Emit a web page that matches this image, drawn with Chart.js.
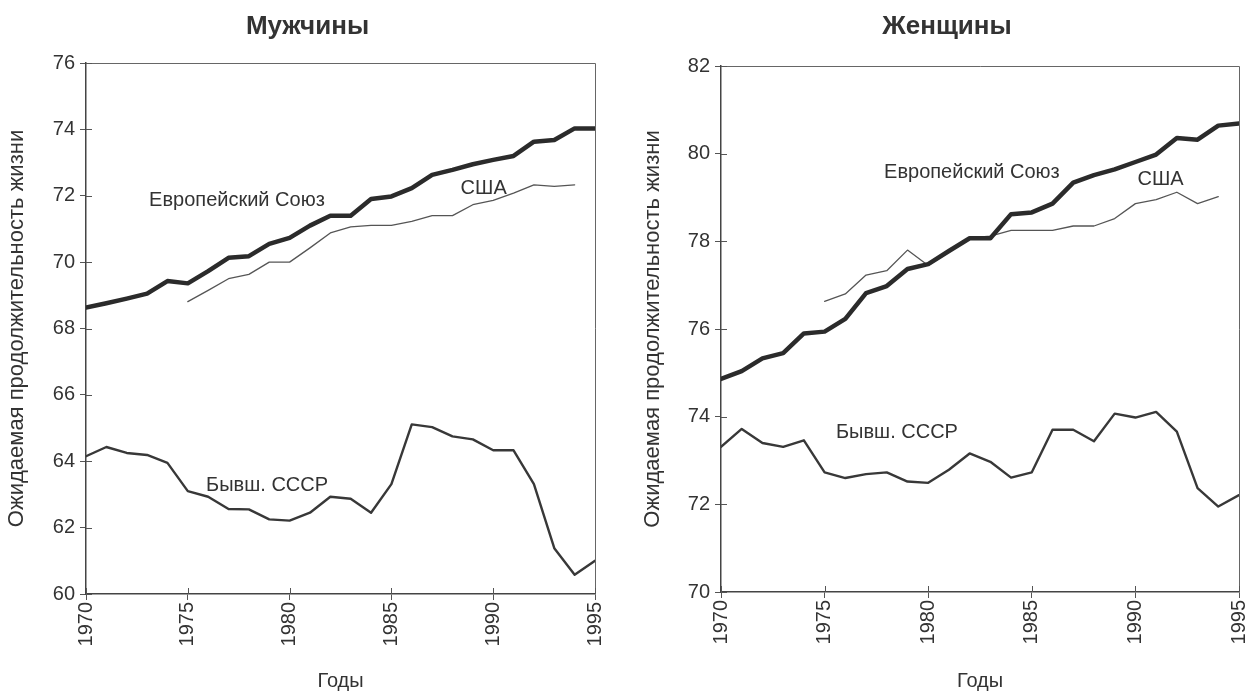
<!DOCTYPE html>
<html>
<head>
    <meta charset="utf-8">
    <title>Ожидаемая продолжительность жизни</title>
    <script src="https://cdn.jsdelivr.net/npm/chart.js@4.4.0/dist/chart.umd.min.js"></script>
    <style>
        body {
            margin: 0;
            background: #fff;
            width: 1250px;
            height: 695px;
            overflow: hidden;
            position: relative;
            font-family: "Liberation Sans", Arial, sans-serif;
        }
        .panel {
            position: absolute;
            top: 0;
            height: 695px;
        }
        #men-wrap { left: 0; width: 640px; }
        #women-wrap { left: 640px; width: 625px; }
    </style>
</head>
<body>
    <div class="panel" id="men-wrap"><canvas id="men" width="640" height="695"></canvas></div>
    <div class="panel" id="women-wrap"><canvas id="women" width="625" height="695"></canvas></div>

    <script>
        // years on the x axis
        const years = [1970, 1971, 1972, 1973, 1974, 1975, 1976, 1977, 1978, 1979,
                       1980, 1981, 1982, 1983, 1984, 1985, 1986, 1987, 1988, 1989,
                       1990, 1991, 1992, 1993, 1994, 1995];
        const yearTicks = [1970, 1975, 1980, 1985, 1990, 1995];

        // men
        const euMen = [68.63, 68.76, 68.9, 69.05, 69.43, 69.36, 69.73, 70.13, 70.18, 70.55,
                       70.73, 71.1, 71.4, 71.4, 71.9, 71.98, 72.23, 72.63, 72.78, 72.95,
                       73.08, 73.2, 73.63, 73.68, 74.03, 74.03];
        const usaMen = [null, null, null, null, null, 68.81, 69.15, 69.5, 69.63, 70.0,
                        70.0, 70.43, 70.88, 71.06, 71.11, 71.11, 71.23, 71.4, 71.4, 71.73,
                        71.86, 72.08, 72.33, 72.28, 72.33, null];
        const ussrMen = [64.15, 64.43, 64.25, 64.19, 63.95, 63.1, 62.93, 62.56, 62.55, 62.25,
                         62.21, 62.45, 62.93, 62.87, 62.45, 63.31, 65.11, 65.03, 64.75, 64.66,
                         64.33, 64.33, 63.31, 61.38, 60.58, 61.0];
        const menTicks = [60, 62, 64, 66, 68, 70, 72, 74, 76];

        // women
        const euWomen = [74.86, 75.04, 75.33, 75.45, 75.9, 75.94, 76.23, 76.82, 76.98, 77.37,
                         77.48, 77.78, 78.07, 78.07, 78.62, 78.66, 78.86, 79.34, 79.51, 79.64,
                         79.81, 79.98, 80.36, 80.32, 80.64, 80.69];
        const usaWomen = [null, null, null, null, null, 76.63, 76.8, 77.23, 77.33, 77.8,
                          77.45, 77.75, 78.08, 78.12, 78.25, 78.25, 78.25, 78.35, 78.35, 78.52,
                          78.86, 78.95, 79.12, 78.86, 79.02, null];
        const ussrWomen = [73.31, 73.72, 73.4, 73.31, 73.46, 72.73, 72.6, 72.69, 72.73, 72.52,
                           72.49, 72.79, 73.16, 72.97, 72.61, 72.73, 73.7, 73.7, 73.44, 74.07,
                           73.98, 74.11, 73.66, 72.37, 71.95, 72.21];
        const womenTicks = [70, 72, 74, 76, 78, 80, 82];

        const seriesNames = ['Европейский Союз', 'США', 'Бывш. СССР'];

        const FONT = '"Liberation Sans", Arial, sans-serif';
        const TEXT = '#333';

        function points(vals) {
            return years.map((yr, i) => ({ x: yr, y: vals[i] })).filter(p => p.y !== null);
        }

        // frame, inner tick marks, panel title and line labels
        const decor = {
            id: 'decor',
            afterDraw(chart, args, opts) {
                const ctx = chart.ctx;
                const a = chart.chartArea;
                const xs = chart.scales.x, ys = chart.scales.y;
                ctx.save();
                ctx.strokeStyle = '#666';
                ctx.lineWidth = 1;
                ctx.beginPath();
                ctx.moveTo(a.left, a.top + 0.5);
                ctx.lineTo(a.right + 0.5, a.top + 0.5);
                ctx.lineTo(a.right + 0.5, a.bottom);
                ctx.stroke();

                ctx.strokeStyle = '#555';
                ctx.beginPath();
                xs.ticks.forEach(t => {
                    const px = Math.round(xs.getPixelForValue(t.value)) + 0.5;
                    ctx.moveTo(px, a.bottom);
                    ctx.lineTo(px, a.bottom - 6);
                });
                ys.ticks.forEach(t => {
                    const py = Math.round(ys.getPixelForValue(t.value)) + 0.5;
                    ctx.moveTo(a.left, py);
                    ctx.lineTo(a.left + 6, py);
                });
                ctx.stroke();

                ctx.fillStyle = TEXT;
                ctx.textAlign = 'center';
                ctx.textBaseline = 'middle';
                ctx.font = 'bold 26px ' + FONT;
                ctx.fillText(opts.title, (a.left + a.right) / 2 - 33, 27);

                ctx.font = '20px ' + FONT;
                ctx.textAlign = 'left';
                opts.labels.forEach(l => {
                    ctx.fillText(l.text, xs.getPixelForValue(l.x), ys.getPixelForValue(l.y));
                });
                ctx.restore();
            }
        };

        function makeChart(id, eu, usa, ussr, yTicks, cfg) {
            return new Chart(document.getElementById(id), {
                type: 'line',
                data: {
                    datasets: [
                        { label: seriesNames[0], data: points(eu), borderColor: '#2b2b2b', borderWidth: 4.5 },
                        { label: seriesNames[1], data: points(usa), borderColor: '#555', borderWidth: 1.3 },
                        { label: seriesNames[2], data: points(ussr), borderColor: '#383838', borderWidth: 2.4 }
                    ]
                },
                options: {
                    responsive: false,
                    animation: false,
                    events: [],
                    elements: {
                        point: { radius: 0 },
                        line: { tension: 0, borderCapStyle: 'round', borderJoinStyle: 'round' }
                    },
                    layout: { padding: { top: cfg.top, right: cfg.right, left: 0, bottom: 0 } },
                    plugins: {
                        legend: { display: false },
                        tooltip: { enabled: false },
                        decor: { title: cfg.title, labels: cfg.labels }
                    },
                    scales: {
                        x: {
                            type: 'linear',
                            min: yearTicks[0],
                            max: yearTicks[yearTicks.length - 1],
                            afterBuildTicks: s => { s.ticks = yearTicks.map(v => ({ value: v })); },
                            ticks: {
                                minRotation: 90,
                                maxRotation: 90,
                                padding: 2,
                                color: TEXT,
                                font: { family: FONT, size: 20 },
                                callback: v => String(v)
                            },
                            grid: { drawOnChartArea: false, drawTicks: true, tickLength: 6, color: '#555' },
                            border: { color: '#444', width: 1.5 },
                            title: {
                                display: true,
                                text: 'Годы',
                                color: TEXT,
                                font: { family: FONT, size: 20 },
                                padding: { top: 0, bottom: 2 }
                            },
                            afterFit: s => { s.height = cfg.xHeight; }
                        },
                        y: {
                            min: yTicks[0],
                            max: yTicks[yTicks.length - 1],
                            afterBuildTicks: s => { s.ticks = yTicks.map(v => ({ value: v })); },
                            ticks: {
                                padding: 5,
                                color: TEXT,
                                font: { family: FONT, size: 20 },
                                callback: v => String(v)
                            },
                            grid: { drawOnChartArea: false, drawTicks: true, tickLength: 6, color: '#555' },
                            border: { color: '#444', width: 1.5 },
                            title: {
                                display: true,
                                text: 'Ожидаемая продолжительность жизни',
                                color: TEXT,
                                font: { family: FONT, size: 22 },
                                padding: { top: cfg.yTitlePad, bottom: 0 }
                            },
                            afterFit: s => { s.width = cfg.yWidth; }
                        }
                    }
                },
                plugins: [decor]
            });
        }

        makeChart('men', euMen, usaMen, ussrMen, menTicks, {
            title: 'Мужчины',
            top: 63, right: 45, xHeight: 101, yWidth: 86, yTitlePad: 4,
            labels: [
                { text: seriesNames[0], x: 1973.1, y: 71.86 },
                { text: seriesNames[1], x: 1988.4, y: 72.21 },
                { text: seriesNames[2], x: 1975.9, y: 63.28 }
            ]
        });

        makeChart('women', euWomen, usaWomen, ussrWomen, womenTicks, {
            title: 'Женщины',
            top: 66, right: 26, xHeight: 103, yWidth: 81, yTitlePad: 0,
            labels: [
                { text: seriesNames[0], x: 1977.87, y: 79.56 },
                { text: seriesNames[1], x: 1990.1, y: 79.41 },
                { text: seriesNames[2], x: 1975.55, y: 73.63 }
            ]
        });
    </script>
</body>
</html>
